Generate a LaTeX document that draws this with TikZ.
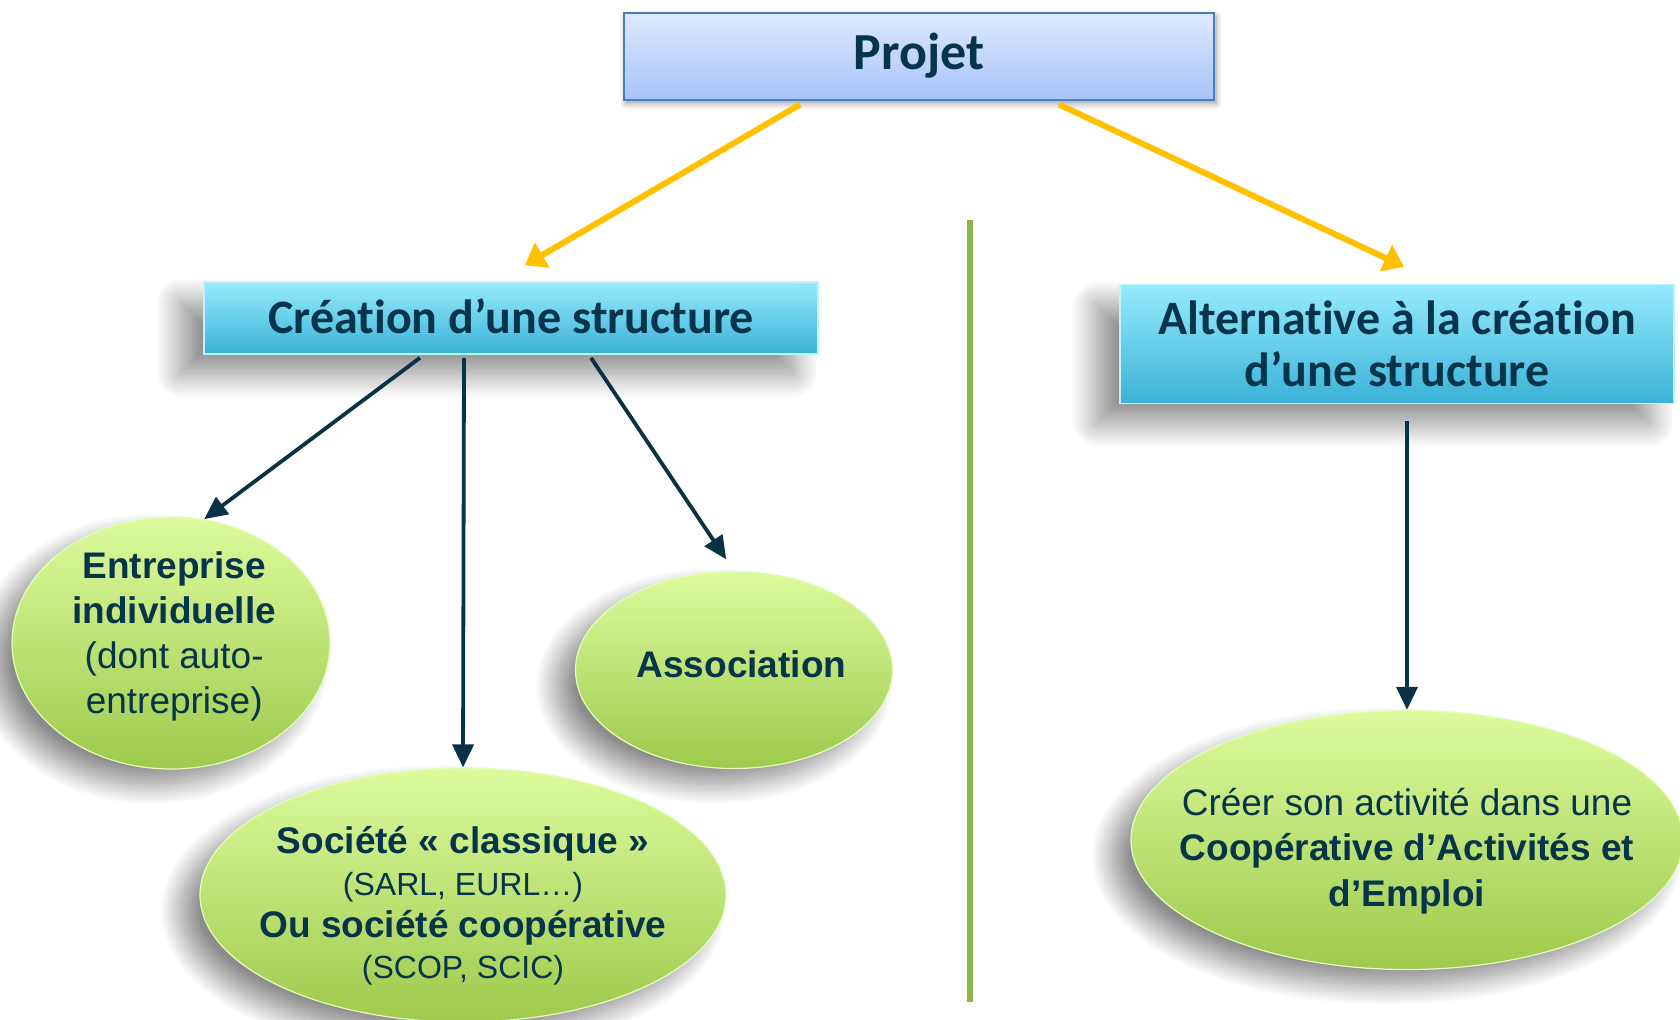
\documentclass[tikz,border=0pt]{standalone}
\usepackage{fontspec}
\setmainfont{Liberation Sans}
\newfontfamily\calibri[Ligatures={NoCommon,NoContextual,NoRare}]{Carlito}
\usetikzlibrary{arrows.meta,shadows.blur,shapes.geometric}

\definecolor{navy}{RGB}{6,52,74}
\definecolor{arrownavy}{RGB}{10,50,70}
\definecolor{gold}{RGB}{255,192,0}
\definecolor{projtop}{RGB}{222,233,253}
\definecolor{projbot}{RGB}{166,196,249}
\definecolor{projline}{RGB}{74,126,187}
\definecolor{cyantop}{RGB}{150,235,252}
\definecolor{cyanbot}{RGB}{58,178,214}
\definecolor{limetop}{RGB}{221,251,158}
\definecolor{limebot}{RGB}{157,202,76}
\definecolor{olive}{RGB}{142,180,70}

\tikzset{
    projbox/.style={rectangle, draw=projline, line width=1pt, top color=projtop, bottom color=projbot,
        text=navy, font={\calibri\bfseries\fontsize{26}{30}\selectfont},
        blur shadow={shadow xshift=1pt, shadow yshift=-2pt, shadow blur radius=3pt, shadow blur steps=10}},
    cyanbox/.style={rectangle, draw=cyantop!60, line width=0.8pt, top color=cyantop, bottom color=cyanbot,
        text=navy, align=center, inner sep=2pt, font={\calibri\bfseries\fontsize{24}{25.7}\selectfont},
        blur shadow={shadow xshift=-12pt, shadow yshift=-10pt, shadow blur radius=12pt, shadow blur steps=25, shadow opacity=45}},
    oval/.style={ellipse, inner sep=0pt, top color=limetop, bottom color=limebot, draw=limetop!70!white, line width=0.6pt,
        blur shadow={shadow xshift=-10pt, shadow yshift=-8pt, shadow blur radius=10pt, shadow blur steps=25, shadow opacity=45}},
    ovaltext/.style={align=center, text=navy, inner sep=0pt, font={\fontsize{18.5}{22.5}\selectfont}},
    goldarrow/.style={draw=gold, line width=3pt, -{Triangle[length=10pt,width=14pt]}},
    navyarrow/.style={draw=arrownavy, line width=1.9pt, -{Triangle[length=11.5pt,width=10.5pt]}},
}

\begin{document}
\begin{tikzpicture}[x=0.5pt, y=-0.5pt]
    \useasboundingbox (0,0) rectangle (1680,1019);

% divider between the two ways
    \draw[olive, line width=3pt] (970,220) -- (970,1002);

% top boxes
    \node[projbox, minimum width=295pt, minimum height=43.5pt] (projet) at (919,56) {\raisebox{1.6pt}{Projet}};
    \node[cyanbox, minimum width=307pt, minimum height=36pt] (creation) at (511,318) {\raisebox{1.5pt}{Création d’une structure}};
    \node[cyanbox, minimum width=277pt, minimum height=59.5pt] (alternative) at (1397,344) {Alternative à la création\\d’une structure};

% green ovals
    \node[oval, minimum width=159pt, minimum height=126pt] (entreprise) at (171,643) {};
    \node[oval, minimum width=158.5pt, minimum height=98.5pt] (association) at (734,670) {};
    \node[oval, minimum width=263pt, minimum height=127pt] (societe) at (463,895) {};
    \node[oval, minimum width=276pt, minimum height=129.5pt] (cae) at (1407,840) {};

    \node[ovaltext] (entreprise-txt) at ([xshift=1.6pt,yshift=3.5pt]entreprise.center)
        {\textbf{Entreprise}\\\textbf{individuelle}\\(dont auto-\\entreprise)};
    \node[ovaltext, font={\bfseries\fontsize{18.5}{22.5}\selectfont}] (association-txt) at ([xshift=3.7pt,yshift=3pt]association.center) {Association};
    \node[ovaltext, font={\fontsize{18.5}{20.8}\selectfont}] (societe-txt) at ([yshift=-5.5pt]societe.center)
        {\textbf{Société « classique »}\\{\fontsize{16}{20.8}\selectfont (SARL, EURL…)}\\\textbf{Ou société coopérative}\\{\fontsize{16}{20.8}\selectfont (SCOP, SCIC)}};
    \node[ovaltext, font={\fontsize{18.5}{22.8}\selectfont}] (cae-txt) at ([yshift=-5.4pt]cae.center)
        {Créer son activité dans une\\\textbf{Coopérative d’Activités et}\\\textbf{d’Emploi}};

% branches from the project
    \draw[goldarrow] ([xshift=-59.5pt,yshift=-2pt]projet.south) -- ([xshift=7pt,yshift=8pt]creation.north);
    \draw[goldarrow] ([xshift=70pt,yshift=-2pt]projet.south) -- ([xshift=3.5pt,yshift=8.5pt]alternative.north);

% legal forms
    \draw[navyarrow] ([xshift=-45.5pt,yshift=-1.5pt]creation.south) -- (entreprise.75);
    \draw[navyarrow] ([xshift=-23.5pt,yshift=-1.5pt]creation.south) -- (societe.north);
    \draw[navyarrow, shorten >=7pt] ([xshift=40pt,yshift=-1.5pt]creation.south) -- (association.north);

% cooperative
    \draw[navyarrow] ([xshift=5pt,yshift=-8.5pt]alternative.south) -- (cae.north);
\end{tikzpicture}
\end{document}
